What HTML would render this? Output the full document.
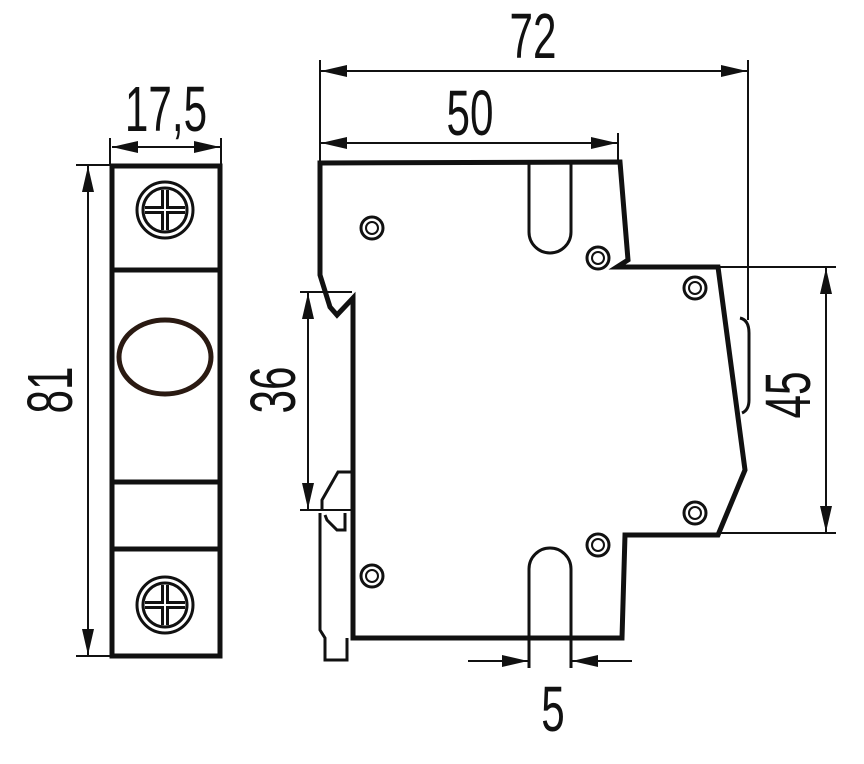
<!DOCTYPE html>
<html><head><style>
html,body{margin:0;padding:0;background:#fff;}
svg{display:block;}
text{font-family:"Liberation Sans",sans-serif;font-size:64px;fill:#111;}
</style></head><body>
<svg width="864" height="764" viewBox="0 0 864 764" xmlns="http://www.w3.org/2000/svg">
<defs>
<marker id="a" viewBox="0 0 26 12" refX="26" refY="6" markerWidth="26" markerHeight="12" markerUnits="userSpaceOnUse" orient="auto-start-reverse"><path d="M0,0L26,6L0,12z" fill="#111"/></marker>
<g id="scr"><circle r="28" fill="none" stroke="#111" stroke-width="3"/><circle r="22" fill="none" stroke="#111" stroke-width="3"/><path d="M-20,0H20M0,-20V20" stroke="#111" stroke-width="8"/><path d="M-20,0H20M0,-20V20" stroke="#fff" stroke-width="2"/></g>
<g id="s"><circle r="11" fill="none" stroke="#111" stroke-width="3"/><circle r="6" fill="none" stroke="#111" stroke-width="2"/></g>
</defs>
<g stroke="#111" fill="none">
<rect x="112" y="166" width="108" height="490" stroke-width="5"/>
<path d="M112,270H220M112,482H220M112,549H220" stroke-width="5"/>
<ellipse cx="165" cy="357" rx="46" ry="37" stroke-width="5" stroke="#2a1a12"/>
<use href="#scr" x="165" y="210"/>
<use href="#scr" x="165" y="605"/>
<path d="M110,138V166M221,138V166M76,165H112M76,656H112" stroke-width="2"/>
<path d="M112,147H220" stroke-width="2" marker-start="url(#a)" marker-end="url(#a)"/>
<path d="M88,166V655" stroke-width="2" marker-start="url(#a)" marker-end="url(#a)"/>
<path d="M320,163L620,162L628,260L617,267L718,267L745,470L718,535L625,535L622,638L353,638V298L337,315L330,307L320,275Z" stroke-width="5" stroke-linejoin="miter"/>
<path d="M352,472H338L322,500V510" stroke-width="3"/>
<path d="M320,513V630L325,638V660H347V638M325,515L327,520L337,530H345V513" stroke-width="3"/>
<path d="M740,318Q749,320 749,333V400Q749,410 742,413" stroke-width="3"/>
<path d="M529,163V232A21,21 0 0 0 571,232V163" stroke-width="3"/>
<path d="M529,668V569A21,21 0 0 1 571,569V668" stroke-width="3"/>
<use href="#s" x="372" y="228"/><use href="#s" x="598" y="258"/><use href="#s" x="695" y="288"/>
<use href="#s" x="695" y="513"/><use href="#s" x="598" y="545"/><use href="#s" x="372" y="576"/>
<path d="M320,60V163M748,60V320M618,133V162M720,267H836M720,533H836M300,292H352M300,510H352" stroke-width="2"/>
<path d="M321,71H747" stroke-width="2" marker-start="url(#a)" marker-end="url(#a)"/>
<path d="M321,143H617" stroke-width="2" marker-start="url(#a)" marker-end="url(#a)"/>
<path d="M826,268V532" stroke-width="2" marker-start="url(#a)" marker-end="url(#a)"/>
<path d="M308,293V509" stroke-width="2" marker-start="url(#a)" marker-end="url(#a)"/>
<path d="M468,661H528" stroke-width="2" marker-end="url(#a)"/>
<path d="M632,661H572" stroke-width="2" marker-end="url(#a)"/>
</g>
<text transform="translate(166,131) scale(0.66,1)" text-anchor="middle">17,5</text>
<text transform="translate(533,58) scale(0.66,1)" text-anchor="middle">72</text>
<text transform="translate(470,135) scale(0.66,1)" text-anchor="middle">50</text>
<text transform="translate(553,731) scale(0.66,1)" text-anchor="middle">5</text>
<text transform="translate(72,390) rotate(-90) scale(0.66,1)" text-anchor="middle">81</text>
<text transform="translate(295,390) rotate(-90) scale(0.66,1)" text-anchor="middle">36</text>
<text transform="translate(810,395) rotate(-90) scale(0.66,1)" text-anchor="middle">45</text>
</svg>
</body></html>
